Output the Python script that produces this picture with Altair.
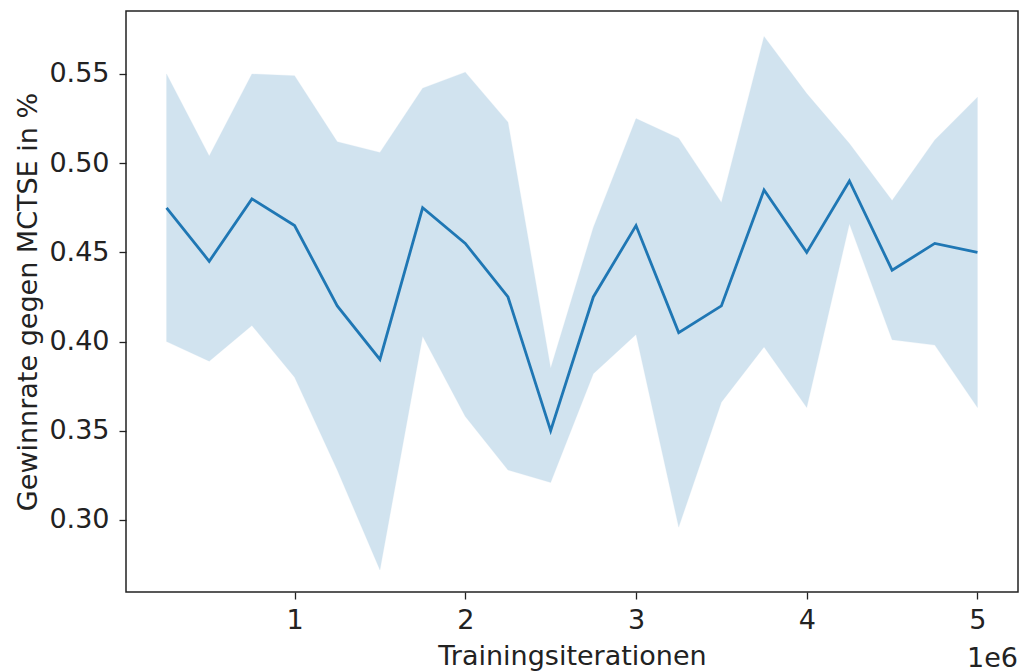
import altair as alt
import pandas as pd

# Training checkpoints (iterations)
iterations = [250000, 500000, 750000, 1000000, 1250000, 1500000, 1750000, 2000000,
              2250000, 2500000, 2750000, 3000000, 3250000, 3500000, 3750000, 4000000,
              4250000, 4500000, 4750000, 5000000]
# Mean win rate against MCTSE
win_rate = [0.475, 0.445, 0.480, 0.465, 0.420, 0.390, 0.475, 0.455, 0.425, 0.350,
            0.425, 0.465, 0.405, 0.420, 0.485, 0.450, 0.490, 0.440, 0.455, 0.450]
# Confidence band
band_low = [0.400, 0.389, 0.409, 0.380, 0.328, 0.272, 0.403, 0.358, 0.328, 0.321,
            0.382, 0.404, 0.296, 0.366, 0.397, 0.363, 0.466, 0.401, 0.398, 0.363]
band_high = [0.550, 0.504, 0.550, 0.549, 0.512, 0.506, 0.542, 0.551, 0.523, 0.385,
             0.464, 0.525, 0.514, 0.478, 0.571, 0.539, 0.511, 0.479, 0.513, 0.537]

x_ticks = [1000000, 2000000, 3000000, 4000000, 5000000]
y_ticks = [0.30, 0.35, 0.40, 0.45, 0.50, 0.55]

df = pd.DataFrame({"it": iterations, "rate": win_rate, "lo": band_low, "hi": band_high})

W, H = 892, 581
FONT = "DejaVu Sans"
FS = 27

x_enc = alt.X(
    "it:Q",
    scale=alt.Scale(domain=[12500, 5237500], nice=False, zero=False),
    axis=alt.Axis(
        values=x_ticks, labelExpr="datum.value / 1000000", title="Trainingsiterationen",
        grid=False, domain=False, tickSize=7, tickWidth=1.3, tickColor="#222",
        labelFont=FONT, labelFontSize=FS, labelColor="#222", labelPadding=8,
        titleFont=FONT, titleFontSize=FS, titleFontWeight="normal", titleColor="#222",
        titlePadding=10,
    ),
)
y_scale = alt.Scale(domain=[0.2596, 0.5853], nice=False, zero=False)
y_axis = alt.Axis(
    values=y_ticks, format=".2f", title="Gewinnrate gegen MCTSE in %",
    grid=False, domain=False, tickSize=7, tickWidth=1.3, tickColor="#222",
    labelFont=FONT, labelFontSize=FS, labelColor="#222", labelPadding=10,
    titleFont=FONT, titleFontSize=FS, titleFontWeight="normal", titleColor="#222",
    titlePadding=6,
)

band = alt.Chart(df).mark_area(
    color="#1f77b4", opacity=0.2, stroke="#1f77b4", strokeOpacity=0.25, strokeWidth=1
).encode(
    x=x_enc,
    y=alt.Y("lo:Q", scale=y_scale, axis=y_axis),
    y2="hi:Q",
)

line = alt.Chart(df).mark_line(color="#1f77b4", strokeWidth=2.8).encode(
    x="it:Q",
    y="rate:Q",
)

offset_label = alt.Chart(df).transform_filter("datum.it == 5000000").mark_text(
    text="1e6", font=FONT, fontSize=FS, color="#222", align="right", baseline="alphabetic"
).encode(
    x=alt.value(W),
    y=alt.value(H + 75),
)

chart = alt.layer(band, line, offset_label).properties(
    width=W,
    height=H,
    autosize=alt.AutoSizeParams(type="none"),
    padding={"left": 126, "top": 11, "right": 7, "bottom": 80},
    background="white",
).configure_view(
    stroke="#222", strokeWidth=1.5
)

chart.save("out.html", embed_options={"renderer": "svg", "actions": False})
